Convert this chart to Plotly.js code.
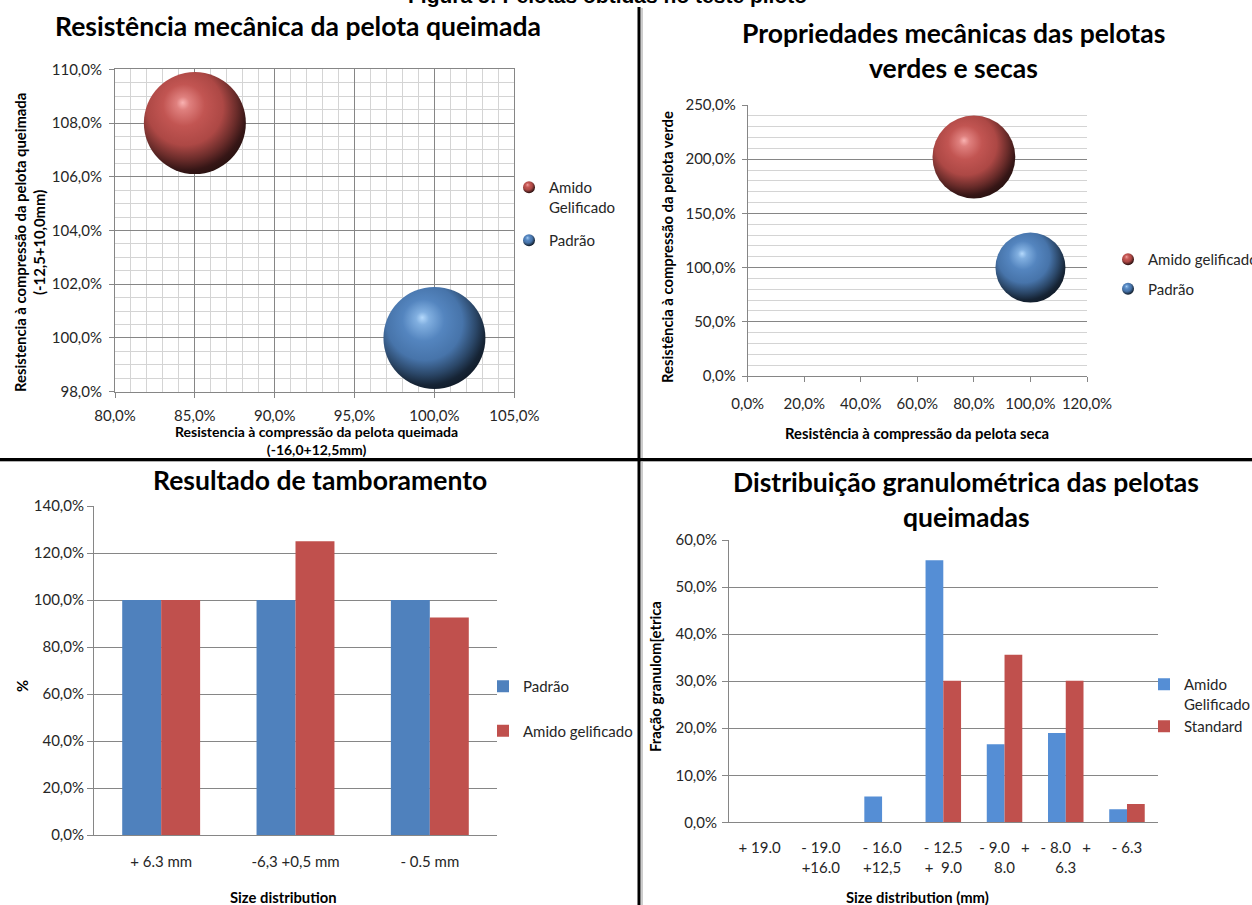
<!DOCTYPE html>
<html><head><meta charset="utf-8">
<script src="https://cdn.plot.ly/plotly-3.0.1.min.js"></script>
<style>html,body{margin:0;padding:0;background:#fff;overflow:hidden}#chart{width:1252px;height:905px}</style>
</head><body><div id="chart"></div>
<script>
// ---------- Panel 1: Resistência mecânica da pelota queimada (bubble) ----------
const p1Series = ['Amido<br>Gelificado', 'Padrão'];
const p1X = [0.85, 1.00];
const p1Y = [1.08, 1.00];
const p1Size = [1, 1];
// ---------- Panel 2: Propriedades mecânicas das pelotas verdes e secas (bubble) ----------
const p2Series = ['Amido gelificado', 'Padrão'];
const p2X = [0.80, 1.00];
const p2Y = [2.02, 1.00];
const p2Size = [1.4, 1.0];
// ---------- Panel 3: Resultado de tamboramento (bars) ----------
const p3Categories = ['+ 6.3 mm', '-6,3 +0,5 mm', '- 0.5 mm'];
const p3SeriesNames = ['Padrão', 'Amido gelificado'];
const p3Padrao = [1.00, 1.00, 1.00];
const p3Amido = [1.00, 1.25, 0.926];
// ---------- Panel 4: Distribuição granulométrica das pelotas queimadas (bars) ----------
const p4Categories = ['+ 19.0', '- 19.0<br>+16.0', '- 16.0<br>+12,5', '- 12.5<br>+\u00a0\u00a09.0',
                      '- 9.0\u00a0\u00a0\u00a0+<br>8.0', '- 8.0\u00a0\u00a0\u00a0+<br>6.3', '- 6.3'];
const p4SeriesNames = ['Amido<br>Gelificado', 'Standard'];
const p4Amido = [0, 0, 0.055, 0.557, 0.166, 0.190, 0.028];
const p4Standard = [0, 0, 0, 0.301, 0.356, 0.301, 0.039];

// ---------- layout helpers ----------
const W = 1252, H = 905;
const fx = px => px / W;
const fy = px => 1 - px / H;

const RED = '#c0504d', BLUE = '#4f81bd', BLUE4 = '#558ed5';
const RED_HI = '#f8a8a6', BLUE_HI = '#aad4fc';
const GRID = '#868686', MINOR = '#d4d4d4';
const FONT = 'Lato, "Open Sans", sans-serif';
const tickFont = {family: FONT, size: 15, color: '#262626'};
const P1_REF = 2 / (102 * 102), P2_REF = 2 / (70 * 70);

function sphere(sizes, sizeref, color, hi) {
  return {size: sizes, sizemode: 'area', sizeref: sizeref, color: color, opacity: 1,
          gradient: {type: 'radial', color: hi}, line: {width: 0}};
}

const data = [
  {type: 'scatter', mode: 'markers', name: p1Series[0], x: [p1X[0]], y: [p1Y[0]],
   xaxis: 'x', yaxis: 'y', legend: 'legend', legendgroup: 'a1', cliponaxis: false,
   marker: sphere([p1Size[0]], P1_REF, RED, RED_HI)},
  {type: 'scatter', mode: 'markers', name: p1Series[1], x: [p1X[1]], y: [p1Y[1]],
   xaxis: 'x', yaxis: 'y', legend: 'legend', legendgroup: 'b1', cliponaxis: false,
   marker: sphere([p1Size[1]], P1_REF, BLUE, BLUE_HI)},
  {type: 'scatter', mode: 'markers', name: p2Series[0], x: [p2X[0]], y: [p2Y[0]],
   xaxis: 'x2', yaxis: 'y2', legend: 'legend2', legendgroup: 'a2', cliponaxis: false,
   marker: sphere([p2Size[0]], P2_REF, RED, RED_HI)},
  {type: 'scatter', mode: 'markers', name: p2Series[1], x: [p2X[1]], y: [p2Y[1]],
   xaxis: 'x2', yaxis: 'y2', legend: 'legend2', legendgroup: 'b2', cliponaxis: false,
   marker: sphere([p2Size[1]], P2_REF, BLUE, BLUE_HI)},
  {type: 'bar', name: p3SeriesNames[0], x: p3Categories, y: p3Padrao, xaxis: 'x3', yaxis: 'y3',
   legend: 'legend3', legendgroup: 'a3', marker: {color: BLUE, line: {width: 0}}},
  {type: 'bar', name: p3SeriesNames[1], x: p3Categories, y: p3Amido, xaxis: 'x3', yaxis: 'y3',
   legend: 'legend3', legendgroup: 'b3', marker: {color: RED, line: {width: 0}}},
  {type: 'bar', name: p4SeriesNames[0], x: p4Categories, y: p4Amido, xaxis: 'x4', yaxis: 'y4',
   legend: 'legend4', legendgroup: 'a4', marker: {color: BLUE4, line: {width: 0}}},
  {type: 'bar', name: p4SeriesNames[1], x: p4Categories, y: p4Standard, xaxis: 'x4', yaxis: 'y4',
   legend: 'legend4', legendgroup: 'b4', marker: {color: RED, line: {width: 0}}}
];

function axisBase(extra) {
  return Object.assign({
    showline: true, linecolor: GRID, linewidth: 1, zeroline: false, automargin: false,
    tickfont: tickFont, tickcolor: GRID, ticklen: 5, fixedrange: true,
    gridcolor: GRID, gridwidth: 1
  }, extra);
}

function legendBase(x, y, gap, valign) {
  return {x: fx(x), y: fy(y), xanchor: 'left', yanchor: 'top', bgcolor: 'rgba(0,0,0,0)',
          font: {family: FONT, size: 15, color: '#262626'}, itemsizing: 'constant',
          traceorder: 'grouped', tracegroupgap: gap, valign: valign || 'top', itemwidth: 30};
}

function note(text, xpx, ypx, size, bold, angle, extra) {
  return Object.assign({text: bold ? '<b>' + text + '</b>' : text, xref: 'paper', yref: 'paper',
    x: fx(xpx), y: fy(ypx), xanchor: 'center', yanchor: 'middle', showarrow: false,
    textangle: angle || 0, font: {family: FONT, size: size, color: '#000'}}, extra || {});
}

const TS = 26.5;   // chart title size
const AS = 14.8;   // axis title size

const layout = {
  width: W, height: H, margin: {l: 0, r: 0, t: 0, b: 0, autoexpand: false},
  paper_bgcolor: '#fff', plot_bgcolor: 'rgba(0,0,0,0)',
  separators: ',.', bargap: 0.42, bargroupgap: 0, barmode: 'group',
  showlegend: true,
  xaxis: axisBase({domain: [fx(115), fx(514.3)], range: [0.80, 1.05], tick0: 0.8, dtick: 0.05,
    tickformat: '.1%', ticks: 'outside', showgrid: true, mirror: true, anchor: 'y',
    ticklabelstandoff: 5,
    minor: {dtick: 0.01, showgrid: true, gridcolor: MINOR, ticks: ''}}),
  yaxis: axisBase({domain: [fy(391.7), fy(69.3)], range: [0.98, 1.10], tick0: 0.98, dtick: 0.02,
    tickformat: '.1%', ticks: 'outside', showgrid: true, mirror: true, anchor: 'x',
    ticklabelstandoff: 4,
    minor: {dtick: 0.005, showgrid: true, gridcolor: MINOR, ticks: ''}}),
  xaxis2: axisBase({domain: [fx(747.7), fx(1087)], range: [0, 1.2], tick0: 0, dtick: 0.2,
    tickformat: '.1%', ticks: 'outside', showgrid: false, anchor: 'y2', ticklabelstandoff: 9}),
  yaxis2: axisBase({domain: [fy(376), fy(105)], range: [0, 2.5], tick0: 0, dtick: 0.5,
    tickformat: '.1%', ticks: 'outside', showgrid: true, anchor: 'x2', ticklabelstandoff: 3,
    minor: {dtick: 0.1, showgrid: true, gridcolor: MINOR, ticks: ''}}),
  xaxis3: axisBase({domain: [fx(94), fx(497)], type: 'category', ticks: '', showgrid: false,
    anchor: 'y3', ticklabelstandoff: 13}),
  yaxis3: axisBase({domain: [fy(835), fy(506)], range: [0, 1.4], tick0: 0, dtick: 0.2,
    tickformat: '.1%', ticks: 'outside', ticklen: 6, showgrid: true, anchor: 'x3', ticklabelstandoff: 0}),
  xaxis4: axisBase({domain: [fx(729), fx(1157.6)], type: 'category', ticks: '', showgrid: false,
    anchor: 'y4', ticklabelstandoff: 12}),
  yaxis4: axisBase({domain: [fy(822.3), fy(540)], range: [0, 0.6], tick0: 0, dtick: 0.1,
    tickformat: '.1%', ticks: 'outside', ticklen: 6, showgrid: true, anchor: 'x4', ticklabelstandoff: 2}),
  legend: legendBase(509, 171, 11, 'top'),
  legend2: legendBase(1108, 243, 7, 'middle'),
  legend3: legendBase(483, 670, 22, 'middle'),
  legend4: legendBase(1144, 668, 0, 'top'),
  annotations: [
    note('Figura 5: Pelotas obtidas no teste piloto', 607, -4, 21, true, 0,
         {font: {family: '"Liberation Sans", Arial, sans-serif', size: 21, color: '#000'}}),
    note('Resistência mecânica da pelota queimada', 298, 26, TS, true),
    note('Propriedades mecânicas das pelotas', 953, 33, TS, true),
    note('verdes e secas', 953, 68, TS, true),
    note('Resultado de tamboramento', 320, 480, TS, true),
    note('Distribuição granulométrica das pelotas', 966, 482, TS, true),
    note('queimadas', 966, 517, TS, true),
    note('Resistencia à compressão da pelota queimada<br>(-12,5+10,0mm)', 29, 243, AS, true, -90),
    note('Resistencia à compressão da pelota queimada<br>(-16,0+12,5mm)', 316, 440, 14, true, 0),
    note('Resistência à compressão da pelota verde', 667, 247, AS, true, -90),
    note('Resistência à compressão da pelota seca', 917, 433, AS, true, 0),
    note('%', 22, 686, AS, true, -90),
    note('Size distribution', 283, 897, AS, true, 0),
    note('Fração granulom[etrica', 655, 677, AS, true, -90),
    note('Size distribution (mm)', 917, 897, AS, true, 0)
  ],
  shapes: [
    {type: 'line', xref: 'paper', yref: 'paper', x0: fx(642), x1: fx(642), y0: fy(8), y1: fy(905),
     line: {color: '#9a9a9a', width: 1}},
    {type: 'line', xref: 'paper', yref: 'paper', x0: 0, x1: 1, y0: fy(461.5), y1: fy(461.5),
     line: {color: '#b0b0b0', width: 1}},
    {type: 'line', xref: 'paper', yref: 'paper', x0: fx(639), x1: fx(639), y0: fy(7), y1: fy(905),
     line: {color: '#000', width: 3}},
    {type: 'line', xref: 'paper', yref: 'paper', x0: 0, x1: 1, y0: fy(459.5), y1: fy(459.5),
     line: {color: '#000', width: 3}}
  ]
};

function parseColor(s) {
  s = (s || '').trim();
  let m = s.match(/rgba?\(\s*([\d.]+)\s*,\s*([\d.]+)\s*,\s*([\d.]+)/i);
  if (m) return [+m[1], +m[2], +m[3]];
  m = s.match(/^#([0-9a-f]{6})$/i);
  if (m) return [0, 2, 4].map(i => parseInt(m[1].substr(i, 2), 16));
  return [128, 128, 128];
}
function mix(c, t, f) {
  return 'rgb(' + c.map((v, i) => Math.round(v + (t[i] - v) * f)).join(',') + ')';
}
const lum = c => c[0] * 0.3 + c[1] * 0.59 + c[2] * 0.11;

Plotly.newPlot('chart', data, layout, {staticPlot: true, displayModeBar: false}).then(gd => {
  // Give the radial marker gradients an off-centre highlight so the bubbles read as spheres.
  gd.querySelectorAll('radialGradient').forEach(g => {
    const stops = Array.from(g.querySelectorAll('stop'));
    if (stops.length < 2) return;
    const cols = stops.map(s => parseColor(s.getAttribute('stop-color')));
    cols.sort((a, b) => lum(b) - lum(a));
    const hi = cols[0];                 // brighter one = highlight colour
    const base = cols[cols.length - 1]; // darker one = marker colour
    stops.forEach(s => s.remove());
    g.setAttribute('fx', '0.38');
    g.setAttribute('fy', '0.30');
    g.setAttribute('cx', '0.42');
    g.setAttribute('cy', '0.38');
    g.setAttribute('r', '0.64');
    const black = [0, 0, 0];
    const seq = [
      [0, mix(hi, [255, 255, 255], 0.12)],
      [0.1, mix(hi, base, 0.45)],
      [0.32, mix(base, [255, 255, 255], 0.03)],
      [0.58, mix(base, black, 0.1)],
      [0.78, mix(base, black, 0.45)],
      [0.92, mix(base, black, 0.72)],
      [1, mix(base, black, 0.78)]
    ];
    seq.forEach(([o, c]) => {
      const st = document.createElementNS('http://www.w3.org/2000/svg', 'stop');
      st.setAttribute('offset', (o * 100) + '%');
      st.setAttribute('stop-color', c);
      g.appendChild(st);
    });
  });
});
</script>
</body></html>
